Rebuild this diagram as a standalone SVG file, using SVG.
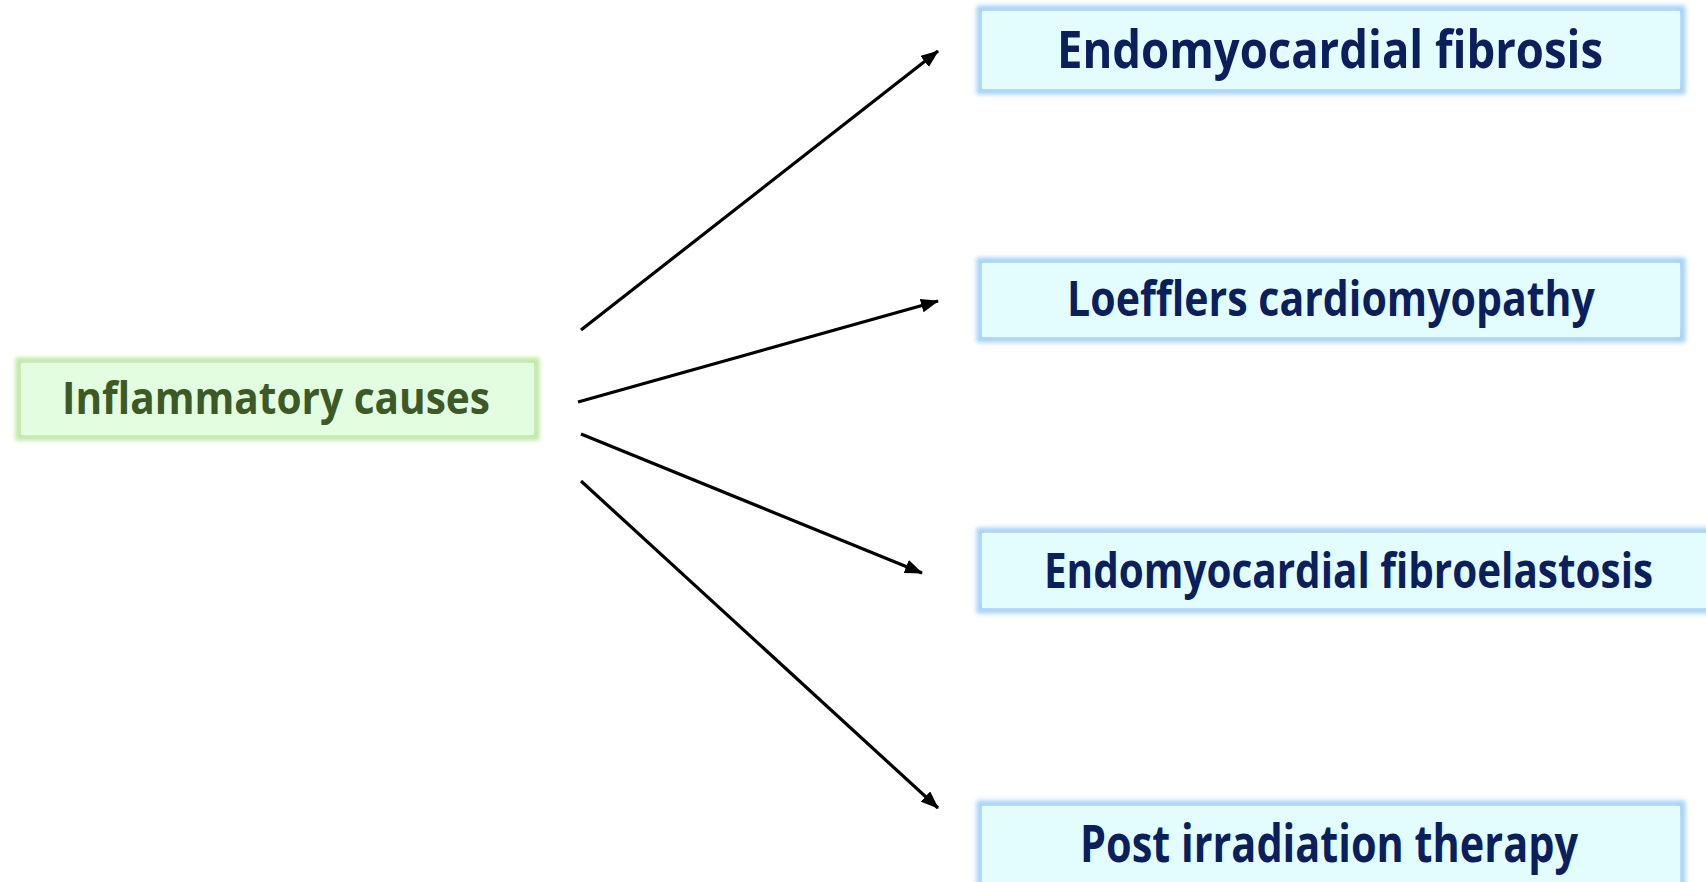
<svg xmlns="http://www.w3.org/2000/svg" width="1706" height="882" viewBox="0 0 1706 882">
  <defs>
    <filter id="soft" x="-10%" y="-30%" width="120%" height="160%">
      <feGaussianBlur stdDeviation="2"/>
    </filter>
    <marker id="head" markerUnits="userSpaceOnUse" markerWidth="18" markerHeight="14" refX="17" refY="7" orient="auto">
      <path d="M0,0 L18,7 L0,14 Z" fill="#000"/>
    </marker>
  </defs>
  <style>
    .glow-g { fill: none; stroke: #bfe8a4; stroke-width: 7; filter: url(#soft); }
    .glow-b { fill: none; stroke: #a6d2f7; stroke-width: 7; filter: url(#soft); }
    .box-g { fill: #e3fde0; }
    .box-b { fill: #e3fdfe; }
    .lbl { font-family: "Comic Sans MS", "Open Sans", "DejaVu Sans", sans-serif; font-weight: bold; text-anchor: middle; }
    .lbl-g { fill: #3d5a26; }
    .lbl-b { fill: #0b1f5c; }
    .edge { stroke: #000; stroke-width: 3.2; fill: none; marker-end: url(#head); }
  </style>
  <rect width="1706" height="882" fill="#fff"/>

  <g id="node-inflammatory">
    <rect class="glow-g" x="19" y="361" width="517" height="76"/>
    <rect class="box-g" x="21" y="363" width="513" height="72"/>
    <text class="lbl lbl-g" x="276" y="414" font-size="44" textLength="428" lengthAdjust="spacingAndGlyphs">Inflammatory causes</text>
  </g>

  <g id="node-emf">
    <rect class="glow-b" x="980" y="9" width="702" height="82"/>
    <rect class="box-b" x="982" y="11" width="698" height="78"/>
    <text class="lbl lbl-b" x="1330" y="68" font-size="52" textLength="546" lengthAdjust="spacingAndGlyphs">Endomyocardial fibrosis</text>
  </g>

  <g id="node-loeffler">
    <rect class="glow-b" x="980" y="261" width="702" height="78"/>
    <rect class="box-b" x="982" y="263" width="698" height="74"/>
    <text class="lbl lbl-b" x="1331" y="316" font-size="48" textLength="528" lengthAdjust="spacingAndGlyphs">Loefflers cardiomyopathy</text>
  </g>

  <!-- this box runs to the right edge of the page -->
  <g id="node-efe">
    <rect class="glow-b" x="980" y="531" width="730" height="79"/>
    <rect class="box-b" x="982" y="533" width="724" height="75"/>
    <text class="lbl lbl-b" transform="translate(1348.5 588) scale(0.78 1)" font-size="48" textLength="781" lengthAdjust="spacingAndGlyphs">Endomyocardial fibroelastosis</text>
  </g>

  <g id="node-irradiation">
    <rect class="glow-b" x="980" y="804" width="702" height="90"/>
    <rect class="box-b" x="982" y="806" width="698" height="86"/>
    <text class="lbl lbl-b" x="1329" y="862" font-size="52" textLength="498" lengthAdjust="spacingAndGlyphs">Post irradiation therapy</text>
  </g>

  <g id="connectors">
    <line class="edge" x1="581" y1="330" x2="938" y2="51"/>
    <line class="edge" x1="578" y1="402" x2="938" y2="301"/>
    <line class="edge" x1="581" y1="434" x2="922" y2="573"/>
    <line class="edge" x1="581" y1="481" x2="938" y2="808"/>
  </g>
</svg>
